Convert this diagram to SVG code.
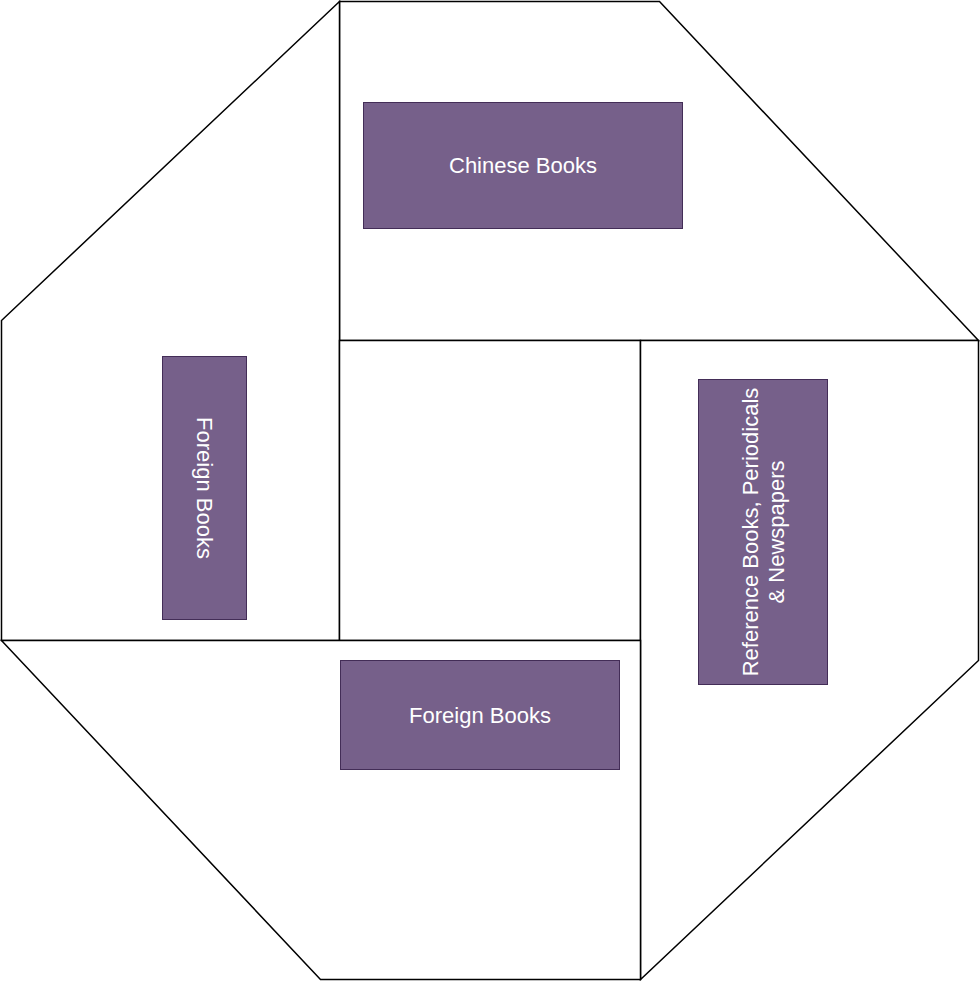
<svg xmlns="http://www.w3.org/2000/svg" width="980" height="981" viewBox="0 0 980 981">
<style>
.wall{fill:#ffffff;stroke:#000000;stroke-width:1.5;stroke-linejoin:miter}
.box{fill:#76608a;stroke:#432d57;stroke-width:1}
.lbl{fill:#ffffff;font-family:"Liberation Sans",Arial,sans-serif;font-size:22px;text-anchor:middle;dominant-baseline:central}
</style>
<rect x="0" y="0" width="980" height="981" fill="#ffffff"/>
<g id="regions">
<g id="top-region"><polygon class="wall" points="339.5,1.5 659.5,1.5 978.5,340.5 339.5,340.5"/></g>
<g id="left-region"><polygon class="wall" points="339.5,1.5 1.5,320.5 1.5,640.5 339.5,640.5"/></g>
<g id="center-region"><rect class="wall" x="339.5" y="340.5" width="301" height="300"/></g>
<g id="right-region"><polygon class="wall" points="640.5,340.5 978.5,340.5 978.5,660.5 640.5,979.5"/></g>
<g id="bottom-region"><polygon class="wall" points="1.5,640.5 640.5,640.5 640.5,979.5 320.5,979.5"/></g>
</g>
<g id="connectors"></g>
<g id="chinese-books">
<rect class="box" x="363.5" y="102.5" width="319" height="126"/>
<text class="lbl" x="523" y="165.5">Chinese Books</text>
</g>
<g id="foreign-books-left">
<rect class="box" x="162.5" y="356.5" width="84" height="263"/>
<text class="lbl" transform="translate(204.5 488) rotate(90)" x="0" y="0">Foreign Books</text>
</g>
<g id="reference-books">
<rect class="box" x="698.5" y="379.5" width="129" height="305"/>
<text class="lbl" transform="translate(763 532) rotate(-90)" x="0" y="0"><tspan x="0" y="-13">Reference Books, Periodicals</tspan><tspan x="0" y="13">&amp; Newspapers</tspan></text>
</g>
<g id="foreign-books-bottom">
<rect class="box" x="340.5" y="660.5" width="279" height="109"/>
<text class="lbl" x="480" y="715">Foreign Books</text>
</g>
</svg>
